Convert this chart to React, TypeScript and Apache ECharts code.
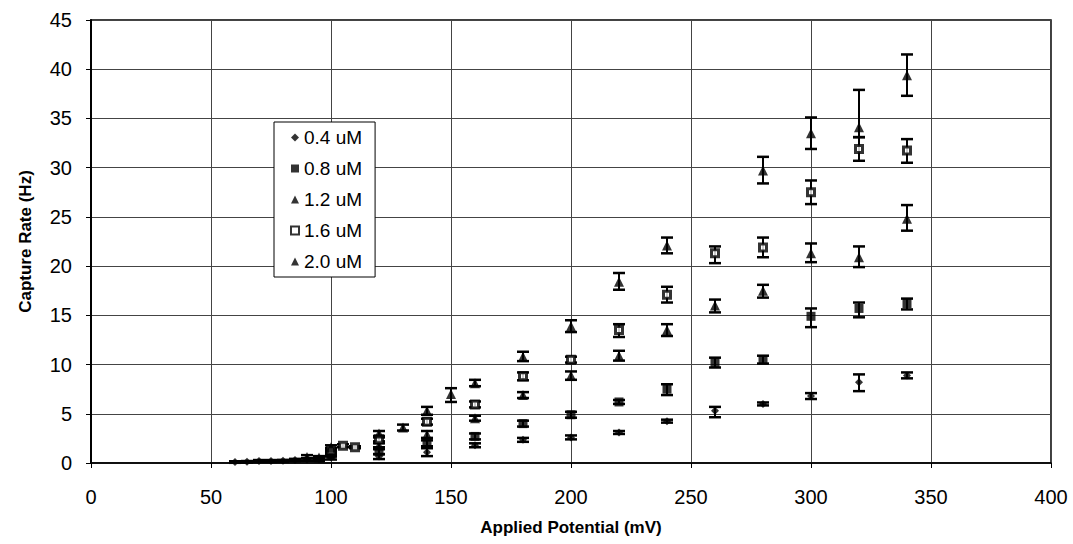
import React, { useEffect, useRef } from "react";
import * as echarts from "echarts";

// [potential (mV), rate (Hz), error low, error high]
const conc04: number[][] = [
  [60, 0.1, 0.02, 0.18], [65, 0.12, 0.04, 0.2], [70, 0.2, 0.1, 0.3], [75, 0.2, 0.1, 0.3],
  [80, 0.22, 0.12, 0.32], [85, 0.3, 0.18, 0.42], [90, 0.35, 0.22, 0.48], [95, 0.35, 0.22, 0.48],
  [100, 0.55, 0.35, 0.75], [120, 0.65, 0.4, 0.9], [140, 1.1, 0.7, 1.5], [160, 1.8, 1.6, 2.0],
  [180, 2.35, 2.15, 2.55], [200, 2.6, 2.4, 2.8], [220, 3.1, 2.95, 3.25], [240, 4.25, 4.1, 4.4],
  [260, 5.3, 4.65, 5.7], [280, 6.0, 5.85, 6.15], [300, 6.8, 6.5, 7.1], [320, 8.2, 7.3, 9.0],
  [340, 8.9, 8.6, 9.2],
];
const conc08: number[][] = [
  [100, 0.85, 0.65, 1.05], [120, 1.15, 0.9, 1.4], [140, 2.0, 1.7, 2.3], [160, 2.7, 2.4, 3.0],
  [180, 4.0, 3.7, 4.3], [200, 4.9, 4.6, 5.2], [220, 6.2, 6.0, 6.4], [240, 7.5, 6.9, 8.0],
  [260, 10.2, 9.7, 10.7], [280, 10.5, 10.1, 10.9], [300, 14.9, 13.8, 15.7], [320, 15.7, 14.8, 16.3],
  [340, 16.2, 15.6, 16.7],
];
const conc12: number[][] = [
  [90, 0.6, 0.45, 0.8], [95, 0.55, 0.4, 0.7], [100, 1.1, 0.9, 1.3], [120, 1.8, 1.6, 2.0],
  [140, 2.9, 2.55, 3.25], [160, 4.55, 4.3, 4.8], [180, 6.9, 6.6, 7.2], [200, 8.9, 8.45, 9.3],
  [220, 10.9, 10.4, 11.4], [240, 13.5, 12.9, 14.1], [260, 16.0, 15.3, 16.6], [280, 17.5, 16.8, 18.1],
  [300, 21.3, 20.4, 22.3], [320, 20.9, 19.9, 22.0], [340, 24.8, 23.6, 26.2],
];
const conc16: number[][] = [
  [100, 1.3, 1.1, 1.5], [105, 1.75, 1.6, 1.9], [110, 1.6, 1.5, 1.7], [120, 2.4, 2.2, 2.6],
  [140, 4.2, 3.9, 4.5], [160, 5.95, 5.65, 6.25], [180, 8.8, 8.4, 9.2], [200, 10.5, 10.2, 10.8],
  [220, 13.5, 12.8, 14.1], [240, 17.1, 16.3, 17.9], [260, 21.3, 20.3, 22.0], [280, 21.9, 20.9, 22.9],
  [300, 27.5, 26.3, 28.7], [320, 31.9, 30.7, 33.1], [340, 31.75, 30.5, 32.9],
];
const conc20: number[][] = [
  [100, 1.6, 1.4, 1.8], [120, 3.0, 2.75, 3.25], [130, 3.6, 3.3, 3.9], [140, 5.3, 4.9, 5.7],
  [150, 7.0, 6.2, 7.6], [160, 8.1, 7.8, 8.45], [180, 10.8, 10.35, 11.3], [200, 13.9, 13.3, 14.5],
  [220, 18.4, 17.6, 19.3], [240, 22.1, 21.3, 22.9], [280, 29.7, 28.4, 31.1], [300, 33.5, 31.9, 35.1],
  [320, 34.1, 33.1, 37.9], [340, 39.4, 37.3, 41.5],
];

const seriesNames = ["0.4 uM", "0.8 uM", "1.2 uM", "1.6 uM", "2.0 uM"];
const FONT = "'Liberation Sans', Arial, sans-serif";

export default function App() {
  const ref = useRef<HTMLDivElement>(null);
  useEffect(() => {
    document.body.style.margin = "0";
    if (!ref.current) return;
    const chart = echarts.init(ref.current, undefined, { renderer: "svg" });

    const errorSeries = (name: string, rows: number[][]) => ({
      name: name + " err",
      type: "custom",
      z: 2,
      silent: true,
      data: rows.map((r) => [r[0], r[2], r[3]]),
      encode: { x: 0, y: [1, 2] },
      renderItem: (_params: any, api: any) => {
        const x = api.value(0);
        const pLo = api.coord([x, api.value(1)]);
        const pHi = api.coord([x, api.value(2)]);
        const hw = 6;
        const st = { stroke: "#000", lineWidth: 2 };
        const cap = { stroke: "#000", lineWidth: 2.5 };
        return {
          type: "group",
          children: [
            { type: "line", shape: { x1: pLo[0], y1: pLo[1], x2: pHi[0], y2: pHi[1] }, style: st },
            { type: "line", shape: { x1: pLo[0] - hw, y1: pLo[1], x2: pLo[0] + hw, y2: pLo[1] }, style: cap },
            { type: "line", shape: { x1: pHi[0] - hw, y1: pHi[1], x2: pHi[0] + hw, y2: pHi[1] }, style: cap },
          ],
        };
      },
    });

    const scatter = (name: string, rows: number[][], symbol: string, size: number, style: any) => ({
      name,
      type: "scatter",
      z: 5,
      symbol,
      symbolSize: size,
      itemStyle: style,
      data: rows.map((r) => [r[0], r[1]]),
    });

    const filled = { color: "#000" };
    const open = { color: "#fff", borderColor: "#000", borderWidth: 3 };

    chart.setOption({
      animation: false,
      backgroundColor: "#fff",
      textStyle: { fontFamily: FONT },
      grid: {
        left: 91, right: 22, top: 20, bottom: 81,
        show: true, borderColor: "#000", borderWidth: 1.5, backgroundColor: "transparent",
      },
      legend: {
        data: seriesNames,
        orient: "vertical",
        left: 274,
        top: 122,
        padding: [6, 13, 6, 16],
        itemGap: 12,
        itemWidth: 8,
        itemHeight: 8,
        backgroundColor: "#fff",
        borderColor: "#000",
        borderWidth: 1,
        borderRadius: 0,
        textStyle: { fontFamily: FONT, fontSize: 19, color: "#000", lineHeight: 18 },
      },
      xAxis: {
        type: "value",
        min: 0, max: 400, interval: 50,
        name: "Applied Potential (mV)",
        nameLocation: "middle",
        nameGap: 56,
        nameTextStyle: { fontFamily: FONT, fontSize: 17, fontWeight: "bold", color: "#000" },
        axisLine: { show: true, onZero: false, lineStyle: { color: "#000", width: 1.5 } },
        axisTick: { show: true, inside: false, length: 5, lineStyle: { color: "#000" } },
        axisLabel: { fontFamily: FONT, fontSize: 20, color: "#000", margin: 24 },
        splitLine: { show: true, lineStyle: { color: "#444", width: 1 } },
      },
      yAxis: {
        type: "value",
        min: 0, max: 45, interval: 5,
        name: "Capture Rate (Hz)",
        nameLocation: "middle",
        nameGap: 57,
        nameTextStyle: { fontFamily: FONT, fontSize: 17, fontWeight: "bold", color: "#000" },
        axisLine: { show: true, lineStyle: { color: "#000", width: 2 } },
        axisTick: { show: true, inside: false, length: 5, lineStyle: { color: "#000" } },
        axisLabel: { fontFamily: FONT, fontSize: 20, color: "#000", margin: 19 },
        splitLine: { show: true, lineStyle: { color: "#444", width: 1 } },
      },
      series: [
        errorSeries(seriesNames[0], conc04),
        errorSeries(seriesNames[1], conc08),
        errorSeries(seriesNames[2], conc12),
        errorSeries(seriesNames[3], conc16),
        errorSeries(seriesNames[4], conc20),
        scatter(seriesNames[0], conc04, "diamond", 8, filled),
        scatter(seriesNames[1], conc08, "rect", 9, filled),
        scatter(seriesNames[2], conc12, "triangle", 10, filled),
        scatter(seriesNames[3], conc16, "rect", 7, open),
        scatter(seriesNames[4], conc20, "triangle", 10, filled),
      ],
    });
    return () => chart.dispose();
  }, []);
  return <div ref={ref} style={{ width: 1073, height: 544 }} />;
}
